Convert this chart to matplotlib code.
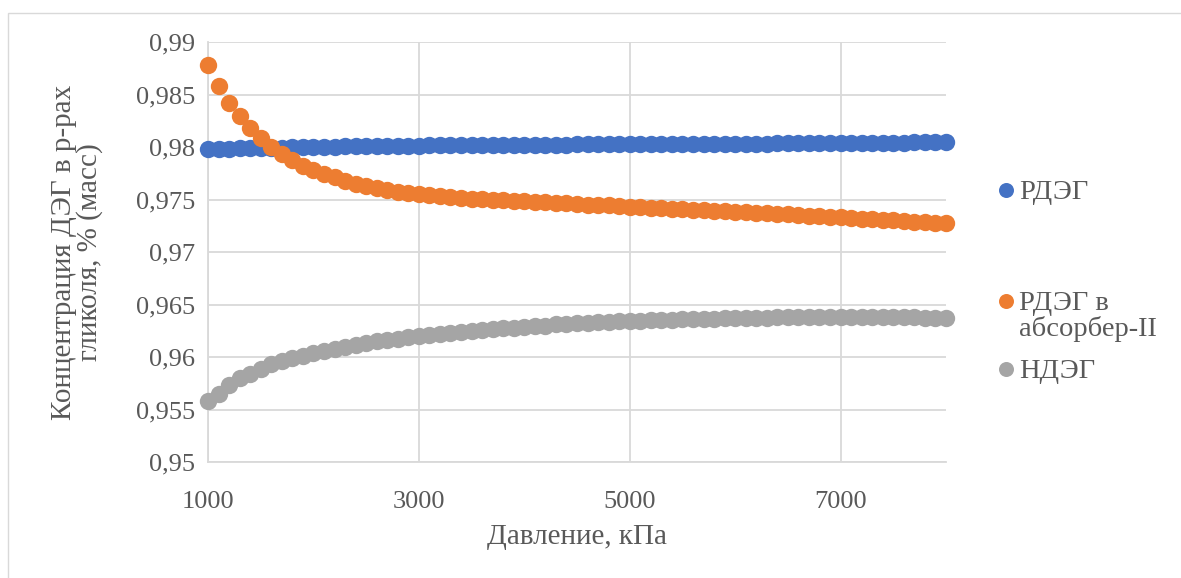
import matplotlib
matplotlib.use("Agg")
import matplotlib.pyplot as plt
from matplotlib.lines import Line2D
from matplotlib.patches import Rectangle
from matplotlib.ticker import FuncFormatter

# Pressure, kPa
pressure = list(range(1000, 8001, 100))

# Regenerated DEG concentration
rdeg = [
    0.97980, 0.97982, 0.97984, 0.97986, 0.97988, 0.97990, 0.97992, 0.97994,
    0.97996, 0.97998, 0.98000, 0.98002, 0.98004, 0.98006, 0.98008, 0.98009,
    0.98010, 0.98011, 0.98012, 0.98013, 0.98014, 0.98015, 0.98016, 0.98016,
    0.98017, 0.98018, 0.98018, 0.98019, 0.98020, 0.98020, 0.98021, 0.98022,
    0.98022, 0.98023, 0.98023, 0.98024, 0.98024, 0.98025, 0.98025, 0.98026,
    0.98026, 0.98027, 0.98027, 0.98028, 0.98028, 0.98029, 0.98029, 0.98030,
    0.98030, 0.98031, 0.98031, 0.98032, 0.98033, 0.98033, 0.98034, 0.98035,
    0.98035, 0.98036, 0.98037, 0.98037, 0.98038, 0.98039, 0.98039, 0.98040,
    0.98041, 0.98041, 0.98042, 0.98043, 0.98043, 0.98044, 0.98045,
]

# Regenerated DEG fed to absorber II
rdeg_abs2 = [
    0.9878, 0.9858, 0.9842, 0.9830, 0.9818, 0.9809, 0.9800, 0.9793,
    0.9788, 0.9782, 0.9778, 0.97745, 0.9771, 0.9768, 0.9765, 0.97625,
    0.97605, 0.9759, 0.97575, 0.9756, 0.97548, 0.9754, 0.9753, 0.97522,
    0.97515, 0.97508, 0.97502, 0.97497, 0.97493, 0.97488, 0.97484, 0.97479,
    0.97473, 0.97467, 0.97462, 0.97457, 0.97452, 0.97447, 0.97443, 0.97438,
    0.97433, 0.97428, 0.97423, 0.97418, 0.97413, 0.97408, 0.97403, 0.97398,
    0.97393, 0.97388, 0.97383, 0.97378, 0.97373, 0.97368, 0.97363, 0.97358,
    0.97352, 0.97346, 0.97340, 0.97335, 0.97330, 0.97324, 0.97318, 0.97313,
    0.97307, 0.97302, 0.97296, 0.97290, 0.97285, 0.97279, 0.97274,
]

# Saturated DEG concentration
ndeg = [
    0.9558, 0.9565, 0.9573, 0.9580, 0.9584, 0.9589, 0.9593, 0.9596,
    0.9599, 0.9601, 0.9604, 0.9606, 0.9608, 0.9610, 0.9611, 0.9613,
    0.9615, 0.9616, 0.9617, 0.9619, 0.9620, 0.9621, 0.9622, 0.9623,
    0.9624, 0.9625, 0.9626, 0.9627, 0.9628, 0.9628, 0.9629, 0.9630,
    0.9630, 0.9631, 0.9631, 0.9632, 0.9632, 0.9633, 0.9633, 0.9634,
    0.9634, 0.9634, 0.9635, 0.9635, 0.9635, 0.9636, 0.9636, 0.9636,
    0.9636, 0.9637, 0.9637, 0.9637, 0.9637, 0.9637, 0.9638, 0.9638,
    0.9638, 0.9638, 0.9638, 0.9638, 0.9638, 0.9638, 0.9638, 0.9638,
    0.9638, 0.9638, 0.9638, 0.9638, 0.9637, 0.9637, 0.9637,
]

series_labels = ["РДЭГ", "РДЭГ в\nабсорбер-II", "НДЭГ"]
series_colors = ["#4472C4", "#ED7D31", "#A5A5A5"]

x_ticks = [1000, 3000, 5000, 7000]
y_ticks = [0.95, 0.955, 0.96, 0.965, 0.97, 0.975, 0.98, 0.985, 0.99]

x_title = "Давление, кПа"
y_title = "Концентрация ДЭГ в р-рах\nгликоля, % (масс)"

plt.rcParams["font.family"] = ["Liberation Serif", "DejaVu Serif"]
text_color = "#595959"
grid_color = "#D9D9D9"

W, H = 1181, 578
fig = plt.figure(figsize=(W / 100, H / 100), dpi=100)
fig.patch.set_facecolor("white")

# Chart-area border
fig.add_artist(Rectangle((8 / W, -0.1), 1.2, 1 - 13 / H + 0.1,
                         transform=fig.transFigure, fill=False,
                         edgecolor=grid_color, linewidth=1.0))

ax = fig.add_axes([208 / W, 1 - 462 / H, (946 - 208) / W, (462 - 42) / H])

marker_size = 12.5
for values, color in zip([rdeg, rdeg_abs2, ndeg], series_colors):
    ax.plot(pressure, values, linestyle="none", marker="o", markersize=marker_size,
            color=color, markeredgewidth=0, clip_on=False, zorder=3)

ax.set_xlim(1000, 8000)
ax.set_ylim(0.95, 0.99)
ax.set_xticks(x_ticks)
ax.set_yticks(y_ticks)
ax.yaxis.set_major_formatter(FuncFormatter(lambda v, _: f"{v:g}".replace(".", ",")))
ax.tick_params(axis="both", length=0, labelsize=19, labelcolor=text_color)
ax.tick_params(axis="y", pad=9)
ax.tick_params(axis="x", pad=21)

ax.grid(True, color=grid_color, linewidth=1.3)
ax.set_axisbelow(True)
for side in ["top", "right"]:
    ax.spines[side].set_visible(False)
for side in ["left", "bottom"]:
    ax.spines[side].set_color(grid_color)
    ax.spines[side].set_linewidth(1.3)

fig.text(577 / W, 1 - 537 / H, x_title, ha="center", va="center",
         fontsize=21, color=text_color)
fig.text(77 / W, 1 - 252 / H, y_title, ha="center", va="center",
         rotation=90, fontsize=21, color=text_color, linespacing=0.98,
         multialignment="center")

# Legend entries
legend_rows = [190, 301, 369]
for label, color, row in zip(series_labels, series_colors, legend_rows):
    fig.add_artist(Line2D([1006 / W], [1 - row / H], marker="o", markersize=10.8,
                          color=color, markeredgewidth=0, linestyle="none",
                          transform=fig.transFigure))
    fig.text(1019 / W, 1 - (row - 10) / H, label, ha="left", va="top",
             fontsize=20.5, color=text_color, linespacing=0.98)

fig.savefig("out.png", dpi=100, facecolor="white")
